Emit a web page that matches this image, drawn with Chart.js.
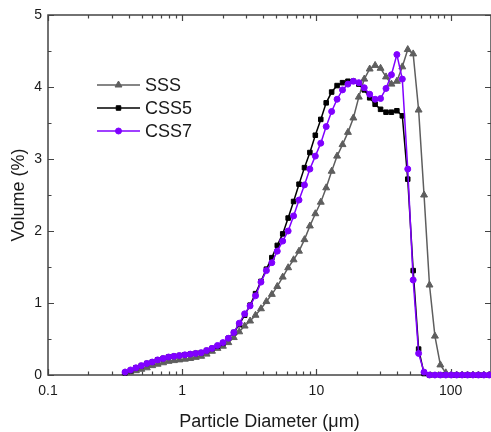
<!DOCTYPE html>
<html>
<head>
<meta charset="utf-8">
<script src="https://cdn.jsdelivr.net/npm/chart.js@4"></script>
<style>
  html, body { margin: 0; padding: 0; background: #fff; overflow: hidden; }
  #wrap { width: 496px; height: 432px; }
  canvas { display: block; }
</style>
</head>
<body>
<div id="wrap"><canvas id="psdChart" width="496" height="432"></canvas></div>
<script>
// particle size channels (um)
const diameters = [0.375, 0.412, 0.452, 0.496, 0.545, 0.598, 0.656, 0.721, 0.791, 0.868,
  0.953, 1.047, 1.149, 1.261, 1.385, 1.520, 1.668, 1.832, 2.011, 2.207,
  2.423, 2.660, 2.920, 3.205, 3.519, 3.863, 4.240, 4.655, 5.110, 5.610,
  6.158, 6.760, 7.421, 8.147, 8.943, 9.817, 10.78, 11.83, 12.99, 14.26,
  15.65, 17.18, 18.86, 20.70, 22.73, 24.95, 27.39, 30.07, 33.01, 36.24,
  39.78, 43.67, 47.94, 52.62, 57.77, 63.41, 69.62, 76.42, 83.89, 92.09,
  101.1, 111.0, 121.8, 133.7, 146.8, 161.2, 176.9, 194.2];

const sss = [0.03, 0.04, 0.06, 0.08, 0.10, 0.13, 0.15, 0.17, 0.19, 0.20,
  0.21, 0.22, 0.23, 0.245, 0.26, 0.29, 0.33, 0.37, 0.40, 0.45,
  0.52, 0.60, 0.68, 0.75, 0.83, 0.92, 1.02, 1.12, 1.23, 1.36,
  1.49, 1.60, 1.72, 1.88, 2.07, 2.24, 2.40, 2.60, 2.83, 3.04,
  3.20, 3.37, 3.57, 3.86, 4.11, 4.25, 4.30, 4.26, 4.14, 4.04,
  4.08, 4.28, 4.52, 4.46, 3.68, 2.50, 1.25, 0.54, 0.14, 0.03,
  0, 0, 0, 0, 0, 0, 0, 0];

const css5 = [0.03, 0.06, 0.10, 0.13, 0.16, 0.18, 0.21, 0.23, 0.25, 0.26,
  0.27, 0.28, 0.29, 0.30, 0.31, 0.34, 0.37, 0.40, 0.44, 0.51,
  0.59, 0.70, 0.83, 0.97, 1.13, 1.30, 1.47, 1.63, 1.80, 1.96,
  2.18, 2.41, 2.65, 2.88, 3.09, 3.33, 3.55, 3.78, 3.93, 4.02,
  4.06, 4.08, 4.08, 4.04, 3.96, 3.85, 3.76, 3.69, 3.65, 3.65,
  3.67, 3.60, 2.72, 1.45, 0.36, 0.02, 0, 0, 0, 0,
  0, 0, 0, 0, 0, 0, 0, 0];

const css7 = [0.04, 0.07, 0.10, 0.13, 0.16, 0.18, 0.21, 0.23, 0.25, 0.26,
  0.27, 0.28, 0.29, 0.30, 0.31, 0.34, 0.37, 0.41, 0.45, 0.51,
  0.59, 0.72, 0.85, 0.96, 1.10, 1.29, 1.45, 1.56, 1.72, 1.86,
  2.00, 2.21, 2.43, 2.64, 2.86, 3.04, 3.22, 3.45, 3.66, 3.83,
  3.96, 4.04, 4.08, 4.06, 3.99, 3.90, 3.83, 3.84, 3.98, 4.17,
  4.45, 4.11, 2.86, 1.32, 0.30, 0.04, 0, 0, 0, 0,
  0, 0, 0, 0, 0, 0, 0, 0];

const xTicks = [0.1, 1, 10, 100];
const xTickLabels = ['0.1', '1', '10', '100'];
const yTicks = [0, 1, 2, 3, 4, 5];

const FONT = 'Arial, "Liberation Sans", sans-serif';
const INK = '#1a1a1a';

function pts(ys) {
  return diameters.map((d, i) => ({ x: d, y: ys[i] }));
}

// frame with inward ticks on all four sides
const framePlugin = {
  id: 'frame',
  beforeDatasetsDraw(chart) {
    const ctx = chart.ctx;
    const a = chart.chartArea;
    const xs = chart.scales.x, ys = chart.scales.y;
    ctx.save();
    ctx.strokeStyle = '#444';
    ctx.lineWidth = 1.5;
    ctx.strokeRect(a.left, a.top, a.right - a.left, a.bottom - a.top);
    ctx.lineWidth = 1.2;
    ctx.beginPath();
    // x ticks: decades plus minor
    for (let dec = 0.1; dec <= 100; dec *= 10) {
      for (let m = 1; m <= 9; m++) {
        const v = dec * m;
        if (v > xs.max) break;
        const px = Math.round(xs.getPixelForValue(v)) + 0.5;
        const len = m === 1 ? 6 : 3.5;
        ctx.moveTo(px, a.bottom); ctx.lineTo(px, a.bottom - len);
        ctx.moveTo(px, a.top); ctx.lineTo(px, a.top + len);
      }
    }
    // y ticks every 0.5
    for (let v = 0; v <= 5; v += 0.5) {
      const py = Math.round(ys.getPixelForValue(v)) + 0.5;
      const len = Number.isInteger(v) ? 6 : 3.5;
      ctx.moveTo(a.left, py); ctx.lineTo(a.left + len, py);
      ctx.moveTo(a.right, py); ctx.lineTo(a.right - len, py);
    }
    ctx.stroke();
    ctx.restore();
  }
};

// legend: short line with marker, then label
const legendPlugin = {
  id: 'lineLegend',
  afterDraw(chart) {
    const ctx = chart.ctx;
    const x0 = 97, x1 = 140, tx = 145;
    const rows = [85, 108, 131];
    chart.data.datasets.forEach((ds, i) => {
      const y = rows[i];
      ctx.save();
      ctx.strokeStyle = ds.borderColor;
      ctx.fillStyle = ds.backgroundColor;
      ctx.lineWidth = 1.5;
      ctx.beginPath();
      ctx.moveTo(x0, y); ctx.lineTo(x1, y);
      ctx.stroke();
      ctx.lineWidth = 1;
      Chart.helpers.drawPoint(ctx, {
        pointStyle: ds.pointStyle, radius: ds.pointRadius, borderWidth: 1, rotation: 0
      }, (x0 + x1) / 2, y);
      ctx.fillStyle = INK;
      ctx.font = '18px ' + FONT;
      ctx.textAlign = 'left';
      ctx.textBaseline = 'middle';
      ctx.fillText(ds.label, tx, y + 1);
      ctx.restore();
    });
  }
};

function makeSet(label, ys, color, style, r, order) {
  return {
    label: label,
    data: pts(ys),
    borderColor: color,
    backgroundColor: color,
    pointBackgroundColor: color,
    pointBorderColor: color,
    borderWidth: 1.5,
    pointStyle: style,
    pointRadius: r,
    pointBorderWidth: 1,
    tension: 0,
    clip: false,
    order: order
  };
}

function initChart() {
  const ctx = document.getElementById('psdChart');
  new Chart(ctx, {
    type: 'line',
    data: {
      datasets: [
        makeSet('SSS', sss, '#5e5e5e', 'triangle', 4, 2),
        makeSet('CSS5', css5, '#000000', 'rect', 3.2, 1),
        makeSet('CSS7', css7, '#8000ff', 'circle', 3, 0)
      ]
    },
    options: {
      responsive: false,
      devicePixelRatio: 1,
      animation: false,
      layout: { padding: { top: 15, right: 0, left: 0, bottom: 0 } },
      plugins: {
        legend: { display: false },
        tooltip: { enabled: false }
      },
      scales: {
        x: {
          type: 'logarithmic',
          min: 0.1,
          max: 200,
          afterFit(scale) { scale.height = 57; },
          afterBuildTicks(scale) { scale.ticks = xTicks.map(v => ({ value: v })); },
          grid: { display: false, drawTicks: false },
          border: { display: false },
          ticks: {
            autoSkip: false,
            maxRotation: 0,
            padding: 8,
            color: INK,
            font: { family: FONT, size: 14 },
            callback: (v, i) => xTickLabels[i]
          },
          title: {
            display: true,
            text: 'Particle Diameter (μm)',
            color: INK,
            font: { family: FONT, size: 18 },
            padding: { top: 0, bottom: -1 }
          }
        },
        y: {
          min: 0,
          max: 5,
          afterFit(scale) { scale.width = 48; },
          afterBuildTicks(scale) { scale.ticks = yTicks.map(v => ({ value: v })); },
          grid: { display: false, drawTicks: false },
          border: { display: false },
          ticks: {
            padding: 6,
            color: INK,
            font: { family: FONT, size: 14 }
          },
          title: {
            display: true,
            text: 'Volume (%)',
            color: INK,
            font: { family: FONT, size: 18 },
            padding: { top: 8, bottom: 0 }
          }
        }
      }
    },
    plugins: [framePlugin, legendPlugin]
  });
}

document.addEventListener('DOMContentLoaded', initChart);
</script>
</body>
</html>
